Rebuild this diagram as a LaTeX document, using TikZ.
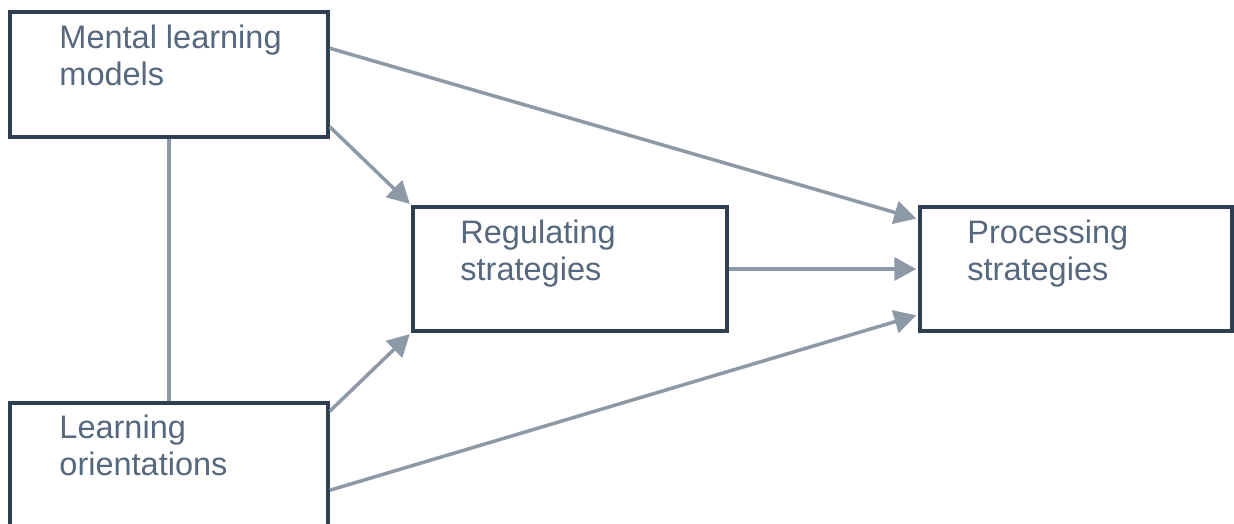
\documentclass[tikz,border=0pt]{standalone}
\usepackage{fontspec}
\setmainfont{Liberation Sans}
\usetikzlibrary{arrows.meta,calc}
\definecolor{boxline}{HTML}{2E3F52}
\definecolor{linkcol}{HTML}{8D99A6}
\definecolor{labelcol}{HTML}{56687E}
\tikzset{
  x=1pt, y=-1pt,
  box/.style={draw=boxline, line width=3.5pt, fill=white, inner sep=0pt},
  boxtext/.style={anchor=base west, inner sep=0pt, align=left, text=labelcol,
    font=\fontsize{32.5}{37}\selectfont},
  link/.style={draw=linkcol, line width=3.5pt},
  arrowlink/.style={link, -{Triangle[length=22pt,width=23pt]}, shorten >=2pt},
}
\begin{document}
\begin{tikzpicture}
\useasboundingbox (0,0) rectangle (1234,524);
\clip (0,0) rectangle (1234,524);
\fill[white] (0,0) rectangle (1234,524);

% the four boxes
\node[box, minimum width=318pt, minimum height=125pt] (m) at (169,74.5) {};
\node[box, minimum width=318pt, minimum height=125pt] (l) at (169,465.5) {};
\node[box, minimum width=314pt, minimum height=124pt] (r) at (570,269) {};
\node[box, minimum width=312pt, minimum height=124pt] (p) at (1076,269) {};

% labels (anchored at the baseline of their second line)
\node[boxtext] (mt) at ([xshift=51pt,yshift=-75pt]m.north west) {Mental learning\\models};
\node[boxtext] (lt) at ([xshift=51pt,yshift=-74pt]l.north west) {Learning\\orientations};
\node[boxtext] (rt) at ([xshift=49pt,yshift=-75pt]r.north west) {Regulating\\strategies};
\node[boxtext] (pt) at ([xshift=49pt,yshift=-75pt]p.north west) {Processing\\strategies};

% connectors
\draw[link] (m.south) -- (l.north);
\draw[arrowlink] ([yshift=-38pt]m.north east) -- ([yshift=-14pt]p.north west);
\draw[arrowlink] ([yshift=12pt]m.south east) -- (r.north west);
\draw[arrowlink] ([yshift=-10pt]l.north east) -- (r.south west);
\draw[arrowlink] ([yshift=-89pt]l.north east) -- ([yshift=18pt]p.south west);
\draw[arrowlink] (r.east) -- (p.west);
\end{tikzpicture}
\end{document}
